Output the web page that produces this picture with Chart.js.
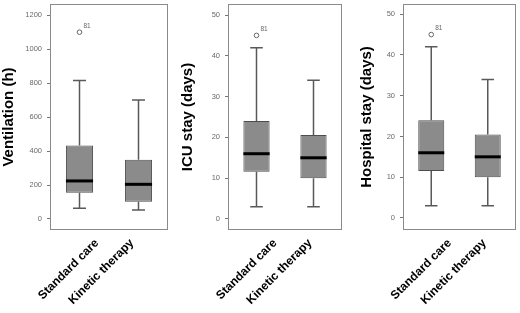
<!DOCTYPE html>
<html>
<head>
<meta charset="utf-8">
<script src="https://cdn.jsdelivr.net/npm/chart.js@4.4.0/dist/chart.umd.min.js"></script>
<style>
    html, body { margin: 0; padding: 0; background: #fff; }
    #wrap { position: relative; width: 520px; height: 313px; }
    .panel { position: absolute; top: 0; height: 313px; }
</style>
</head>
<body>
<div id="wrap">
    <div class="panel" style="left:0px;width:172px"><canvas id="ventChart"></canvas></div>
    <div class="panel" style="left:179px;width:167px"><canvas id="icuChart"></canvas></div>
    <div class="panel" style="left:358px;width:162px"><canvas id="hospChart"></canvas></div>
</div>
<script>
    const groups = ['Standard care', 'Kinetic therapy'];

    // each box: [lower whisker, Q1, median, Q3, upper whisker]
    const ventStandard = [63, 155, 224, 432, 815];
    const ventKinetic = [53, 102, 204, 348, 701];
    const ventOutliers = [{ group: 0, value: 1100, label: '81' }];
    const ventTicks = [0, 200, 400, 600, 800, 1000, 1200];

    const icuStandard = [3, 11.6, 16, 24, 42];
    const icuKinetic = [3, 10, 15, 20.6, 34];
    const icuOutliers = [{ group: 0, value: 45, label: '81' }];
    const icuTicks = [0, 10, 20, 30, 40, 50];

    const hospStandard = [3, 11.5, 16, 24, 42];
    const hospKinetic = [3, 10, 15, 20.5, 34];
    const hospOutliers = [{ group: 0, value: 45, label: '81' }];
    const hospTicks = [0, 10, 20, 30, 40, 50];

    const fontFamily = "'Liberation Sans', Arial, Helvetica, sans-serif";

    // whiskers, medians, outliers and the frame round the plot
    const boxExtras = {
        id: 'boxExtras',
        afterDatasetsDraw(chart) {
            const ctx = chart.ctx;
            const xs = chart.scales.x;
            const ys = chart.scales.y;
            const ds = chart.data.datasets[0];
            const meta = chart.getDatasetMeta(0);
            ctx.save();
            ds.stats.forEach(function (s, i) {
                const cx = xs.getPixelForValue(i);
                const half = meta.data[i].width / 2;
                const lo = ys.getPixelForValue(s[0]);
                const q1 = ys.getPixelForValue(s[1]);
                const med = ys.getPixelForValue(s[2]);
                const q3 = ys.getPixelForValue(s[3]);
                const hi = ys.getPixelForValue(s[4]);
                const cap = half * 0.48;
                ctx.strokeStyle = '#595959';
                ctx.lineWidth = 1.5;
                ctx.beginPath();
                ctx.moveTo(cx, q3); ctx.lineTo(cx, hi);
                ctx.moveTo(cx, q1); ctx.lineTo(cx, lo);
                ctx.moveTo(cx - cap, hi); ctx.lineTo(cx + cap, hi);
                ctx.moveTo(cx - cap, lo); ctx.lineTo(cx + cap, lo);
                ctx.stroke();
                ctx.strokeStyle = '#000';
                ctx.lineWidth = 3;
                ctx.beginPath();
                ctx.moveTo(cx - half, med); ctx.lineTo(cx + half, med);
                ctx.stroke();
            });
            ds.outliers.forEach(function (o) {
                const cx = xs.getPixelForValue(o.group);
                const cy = ys.getPixelForValue(o.value);
                ctx.strokeStyle = '#666';
                ctx.lineWidth = 1;
                ctx.beginPath();
                ctx.arc(cx, cy, 2.3, 0, Math.PI * 2);
                ctx.stroke();
                ctx.fillStyle = '#666';
                ctx.font = '6.5px ' + fontFamily;
                ctx.textAlign = 'left';
                ctx.textBaseline = 'middle';
                ctx.fillText(o.label, cx + 4, cy - 6);
            });
            const a = chart.chartArea;
            ctx.strokeStyle = '#8a8a8a';
            ctx.lineWidth = 1;
            ctx.strokeRect(a.left + 0.5, a.top + 0.5, a.right - a.left - 1, a.bottom - a.top - 1);
            ctx.restore();
        }
    };

    function makeChart(id, standard, kinetic, outliers, ticks, yMin, yMax, title, yWidth, labMin, labMax) {
        const ctx = document.getElementById(id).getContext('2d');
        return new Chart(ctx, {
            type: 'bar',
            data: {
                labels: groups,
                datasets: [{
                    xAxisID: 'x',
                    data: [[standard[1], standard[3]], [kinetic[1], kinetic[3]]],
                    stats: [standard, kinetic],
                    outliers: outliers,
                    backgroundColor: '#8b8b8b',
                    borderColor: '#4d4d4d',
                    borderWidth: 1,
                    borderSkipped: false,
                    barPercentage: 0.46,
                    categoryPercentage: 1
                }]
            },
            options: {
                responsive: true,
                maintainAspectRatio: false,
                animation: false,
                layout: { padding: { left: 0, right: 4, top: 4, bottom: 0 } },
                plugins: {
                    legend: { display: false },
                    tooltip: { enabled: false }
                },
                scales: {
                    x: { display: false },
                    // group names sit on their own axis, packed closer than the boxes
                    xl: {
                        type: 'linear',
                        position: 'bottom',
                        offset: false,
                        min: labMin,
                        max: labMax,
                        grid: { display: false, drawTicks: false, offset: false },
                        border: { display: false },
                        ticks: {
                            minRotation: 45,
                            maxRotation: 45,
                            autoSkip: false,
                            padding: 6,
                            color: '#000',
                            font: { family: fontFamily, size: 12, weight: 'bold' },
                            callback: function (v) { return groups[v]; }
                        },
                        afterBuildTicks: function (scale) {
                            scale.ticks = groups.map(function (g, i) { return { value: i }; });
                        },
                        afterFit: function (scale) {
                            scale.height = 83;
                            scale.paddingLeft = 0;
                            scale.paddingRight = 0;
                        }
                    },
                    y: {
                        min: yMin,
                        max: yMax,
                        grid: { drawOnChartArea: false, drawTicks: true, tickLength: 3, color: '#777' },
                        border: { display: false },
                        ticks: {
                            padding: 5,
                            color: '#6a6a6a',
                            font: { family: fontFamily, size: 7.5 },
                            callback: function (v) { return String(v); }
                        },
                        title: {
                            display: true,
                            text: title,
                            color: '#000',
                            padding: 0,
                            font: { family: fontFamily, size: 15, weight: 'bold' }
                        },
                        afterBuildTicks: function (scale) {
                            scale.ticks = ticks.map(function (v) { return { value: v }; });
                        },
                        afterFit: function (scale) {
                            scale.width = yWidth;
                            scale.paddingTop = 0;
                            scale.paddingBottom = 0;
                        }
                    }
                }
            },
            plugins: [boxExtras]
        });
    }

    makeChart('ventChart', ventStandard, ventKinetic, ventOutliers, ventTicks, -65, 1266, 'Ventilation (h)', 50, -1.343, 2.029);
    makeChart('icuChart', icuStandard, icuKinetic, icuOutliers, icuTicks, -2.7, 52.7, 'ICU stay (days)', 49, -1.343, 1.914);
    makeChart('hospChart', hospStandard, hospKinetic, hospOutliers, hospTicks, -2.95, 52.5, 'Hospital stay (days)', 45, -1.343, 1.914);
</script>
</body>
</html>
